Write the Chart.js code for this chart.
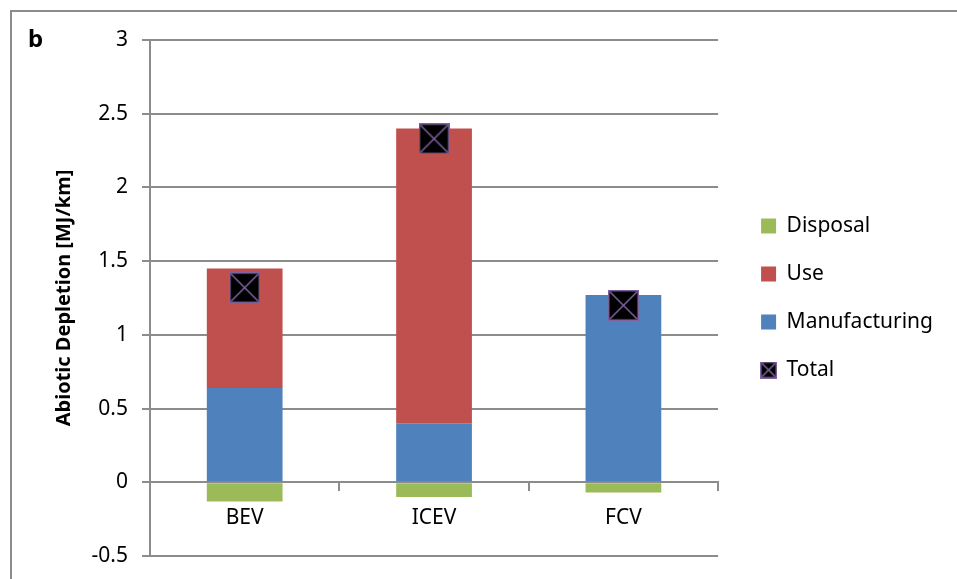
<!DOCTYPE html>
<html>
<head>
<meta charset="utf-8">
<script src="https://cdn.jsdelivr.net/npm/chart.js@4.4.0/dist/chart.umd.min.js"></script>
<style>
  html, body { margin: 0; padding: 0; background: #fff; }
  #wrap { width: 957px; height: 579px; }
</style>
</head>
<body>
<div id="wrap"><canvas id="myChart" width="957" height="579"></canvas></div>
<script>
  // data
  var categories = ["BEV", "ICEV", "FCV"];
  var manufacturing = [0.64, 0.40, 1.27];
  var use = [0.81, 2.00, 0];
  var disposal = [-0.13, -0.10, -0.07];
  var total = [1.32, 2.33, 1.20];
  var yTicks = [-0.5, 0, 0.5, 1, 1.5, 2, 2.5, 3];

  var FONT = "'Noto Sans', 'DejaVu Sans', sans-serif";
  var gridCol = "#8c8c8c";

  // black square with purple cross for the Total marker
  function makeMarker(size) {
    var c = document.createElement('canvas');
    c.width = size; c.height = size;
    var g = c.getContext('2d');
    g.fillStyle = '#000';
    g.fillRect(0, 0, size, size);
    g.strokeStyle = '#8064A2';
    g.lineWidth = 1.5;
    g.strokeRect(0.75, 0.75, size - 1.5, size - 1.5);
    g.beginPath();
    g.moveTo(2, 2); g.lineTo(size - 2, size - 2);
    g.moveTo(size - 2, 2); g.lineTo(2, size - 2);
    g.stroke();
    return c;
  }
  var bigMarker = makeMarker(31);
  var smallMarker = makeMarker(17);

  var legendOrder = ["Disposal", "Use", "Manufacturing", "Total"];

  var framePlugin = {
    id: 'frame',
    afterLayout: function(chart) {
      // push legend a bit right of the plot, like the original
      if (chart.legend) { chart.legend.left += 16; chart.legend.right += 16; }
    },
    afterDraw: function(chart) {
      var ctx = chart.ctx;
      ctx.save();
      ctx.strokeStyle = '#8c8c8c';
      ctx.lineWidth = 2;
      ctx.beginPath();
      ctx.moveTo(11, 579); ctx.lineTo(11, 11); ctx.lineTo(957, 11);
      ctx.stroke();
      ctx.fillStyle = '#000';
      ctx.font = "bold 24px " + FONT;
      ctx.textBaseline = 'middle';
      ctx.fillText("b", 28, 40);
      ctx.restore();
    }
  };

  var ctx = document.getElementById("myChart").getContext('2d');
  var myChart = new Chart(ctx, {
    type: 'bar',
    data: {
      labels: categories,
      datasets: [
        { label: 'Manufacturing', data: manufacturing, backgroundColor: "#4F81BD", stack: 's', order: 2 },
        { label: 'Use', data: use, backgroundColor: "#C0504D", stack: 's', order: 2 },
        { label: 'Disposal', data: disposal, backgroundColor: "#9BBB59", stack: 's', order: 2 },
        { type: 'line', label: 'Total', data: total, showLine: false, stack: 't', order: 1,
          pointStyle: bigMarker, pointRadius: 15, pointHoverRadius: 15,
          backgroundColor: '#000', borderColor: '#8064A2' }
      ]
    },
    options: {
      responsive: false,
      animation: false,
      events: [],
      layout: { padding: { left: 12, right: 30, top: 40, bottom: 23 } },
      datasets: { bar: { barPercentage: 0.4, categoryPercentage: 1 } },
      plugins: {
        tooltip: { enabled: false },
        legend: {
          position: 'right',
          labels: {
            font: { family: FONT, size: 21 },
            color: '#000',
            boxWidth: 15,
            boxHeight: 15,
            padding: 27,
            usePointStyle: true,
            sort: function(a, b) { return legendOrder.indexOf(a.text) - legendOrder.indexOf(b.text); },
            generateLabels: function(chart) {
              var items = Chart.defaults.plugins.legend.labels.generateLabels(chart);
              items.forEach(function(it) {
                it.lineWidth = 0;
                it.pointStyle = (it.text === 'Total') ? smallMarker : 'rect';
              });
              return items;
            }
          }
        }
      },
      scales: {
        x: {
          position: { y: 0 },
          afterFit: function(axis) { axis.height = 10; },
          grid: { display: true, offset: true, drawOnChartArea: false, tickLength: 8, color: gridCol, lineWidth: 2 },
          border: { display: true, color: gridCol, width: 2 },
          ticks: { color: '#000', font: { family: FONT, size: 21 }, padding: 15 }
        },
        y: {
          stacked: true,
          min: -0.5,
          max: 3,
          afterBuildTicks: function(axis) { axis.ticks = yTicks.map(function(v) { return { value: v }; }); },
          afterFit: function(axis) { axis.width = 138; axis.paddingTop = 12; axis.paddingBottom = 12; },
          grid: { color: gridCol, lineWidth: 2, tickLength: 8 },
          border: { display: true, color: gridCol, width: 2 },
          ticks: { color: '#000', font: { family: FONT, size: 21 }, padding: 14,
                   callback: function(v) { return String(v); } },
          title: { display: true, text: 'Abiotic Depletion [MJ/km]', color: '#000',
                   font: { family: FONT, size: 20, weight: 'bold' }, padding: { top: 40, bottom: 0 } }
        }
      }
    },
    plugins: [framePlugin]
  });
</script>
</body>
</html>
